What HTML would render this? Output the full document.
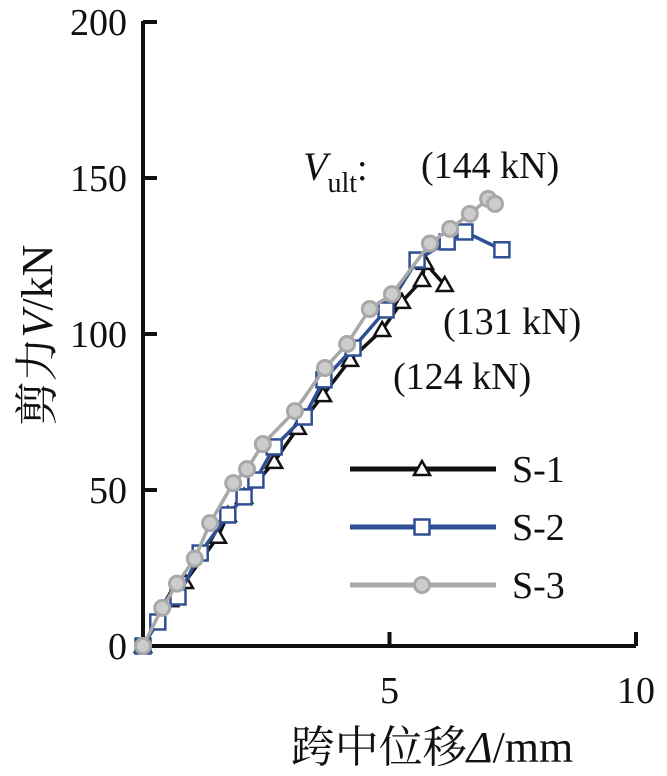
<!DOCTYPE html>
<html><head><meta charset="utf-8"><style>
html,body{margin:0;padding:0;background:#fff;}
svg{display:block;font-family:"Liberation Serif","Noto Serif CJK SC",serif;}
</style></head><body>
<svg id="chart" width="667" height="776" viewBox="0 0 667 776" xmlns="http://www.w3.org/2000/svg">
<g id="axes"></g>
<g id="series"></g>
<g font-size="38" fill="#111">
<text x="303" y="180"><tspan font-style="italic" font-size="40">V</tspan><tspan font-size="28" dy="12">ult</tspan><tspan dy="-12">:</tspan></text>
<text x="421" y="178">(144 kN)</text>
<text x="443" y="334">(131 kN)</text>
<text x="393" y="389">(124 kN)</text>
</g>
<text transform="translate(52,335) rotate(-90)" text-anchor="middle" font-size="44" fill="#111">剪力<tspan font-style="italic">V</tspan>/kN</text>
<text x="432" y="762" text-anchor="middle" font-size="44" fill="#111">跨中位移<tspan font-style="italic">Δ</tspan>/mm</text>
<g id="legend"></g>
</svg>
<script>
const xTicks=[0,5,10];
const xTickLabels=["","5","10"];
const yTicks=[0,50,100,150,200];
const yTickLabels=["0","50","100","150","200"];
const seriesNames=["S-1","S-2","S-3"];
const s1x=[0,0.55,0.85,1.52,1.72,2.05,2.66,3.14,3.65,4.2,4.85,5.25,5.66,5.72,6.12];
const s1y=[0,14.7,20.5,35,42,47.8,59,69.9,80.4,91.7,101.3,110.3,117.3,122.8,115.7];
const s2x=[0,0.3,0.71,1.16,1.72,2.05,2.29,2.66,3.27,3.67,4.26,4.93,5.56,6.17,6.53,7.28];
const s2y=[0,7.7,15.7,29.8,42,47.8,53.2,63.8,73.4,85.3,95.5,107.7,123.7,129.5,132.7,127];
const s3x=[0,0.39,0.69,1.05,1.36,1.83,2.11,2.43,3.08,3.69,4.14,4.6,5.05,5.82,6.23,6.63,7.0,7.14];
const s3y=[0,12.2,20,28,39.4,52.2,56.7,64.7,75.3,89.1,96.8,108,112.8,129,133.7,138.5,143.3,141.7];

const X0=143,X1=636,Y0=646,Y1=22;
const sx=v=>X0+(v-0)/(10-0)*(X1-X0);
const sy=v=>Y0-(v-0)/(200-0)*(Y0-Y1);
const NS="http://www.w3.org/2000/svg";
function mk(tag,attrs,parent){const e=document.createElementNS(NS,tag);for(const k in attrs)e.setAttribute(k,attrs[k]);parent.appendChild(e);return e;}
const axes=document.getElementById('axes');
let e;
e=mk('line',{x1:X0,y1:Y1-1,x2:X0,y2:Y0+2,stroke:'#111','stroke-width':4},axes);


e=mk('line',{x1:X0-2,y1:Y0,x2:X1,y2:Y0,stroke:'#111','stroke-width':4},axes);


yTicks.forEach((v,i)=>{
  const t=mk('line',{x1:X0,y1:sy(v),x2:X0+14,y2:sy(v),stroke:'#111','stroke-width':4},axes);
  
  
  const l=mk('text',{x:X0-16,y:sy(v)+13,'text-anchor':'end','font-size':38,fill:'#111'},axes);
  l.textContent=yTickLabels[i];
  
  
});
xTicks.forEach((v,i)=>{
  if(v>0){const t=mk('line',{x1:sx(v),y1:Y0,x2:sx(v),y2:Y0-14,stroke:'#111','stroke-width':4},axes);
  
  }
  const l=mk('text',{x:sx(v),y:Y0+57,'text-anchor':'middle','font-size':38,fill:'#111'},axes);
  l.textContent=xTickLabels[i];
  
  
});
const colors=['#111111','#2e4f94','#a8a8a8'];
function marker(g,type,x,y,c){
  let m;
  if(type===0) m=mk('polygon',{points:`${x},${y-8} ${x-8},${y+6} ${x+8},${y+6}`,fill:'#fff',stroke:c,'stroke-width':2.5},g);
  else if(type===1) m=mk('rect',{x:x-7.5,y:y-7.5,width:15,height:15,fill:'#fff',stroke:c,'stroke-width':2.5},g);
  else m=mk('circle',{cx:x,cy:y,r:7.5,fill:'#ccc',stroke:c,'stroke-width':3},g);
  return m;
}
const sg=document.getElementById('series');
const allX=[s1x,s2x,s3x],allY=[s1y,s2y,s3y];
allX.forEach((xs,k)=>{
  const g=mk('g',{},sg);
  
  
  const p=mk('polyline',{points:xs.map((x,i)=>sx(x)+','+sy(allY[k][i])).join(' '),fill:'none',stroke:colors[k],'stroke-width':3.5,'stroke-linejoin':'round'},g);
  
  
  xs.forEach((x,i)=>{
    const m=marker(g,k,sx(x),sy(allY[k][i]),colors[k]);
    
    
  });
});
const lg=document.getElementById('legend');
seriesNames.forEach((n,k)=>{
  const y=469+k*58;
  const g=mk('g',{},lg);
  
  
  mk('line',{x1:350,y1:y,x2:496,y2:y,stroke:colors[k],'stroke-width':5},g);
  marker(g,k,422,y,colors[k]);
  const t=mk('text',{x:512,y:y+13,'font-size':38,fill:'#111'},g);
  t.textContent=n;
});
</script>
</body></html>
